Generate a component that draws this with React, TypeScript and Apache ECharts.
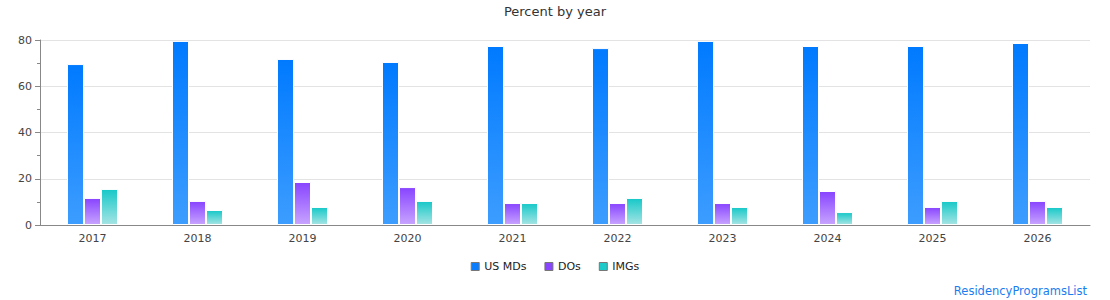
import React, { useEffect, useRef } from "react";
import * as echarts from "echarts";

const years = ["2017", "2018", "2019", "2020", "2021", "2022", "2023", "2024", "2025", "2026"];
const usMDs = [69.6, 79.6, 71.8, 70.5, 77.4, 76.5, 79.6, 77.4, 77.4, 78.7];
const dos = [11.7, 10.4, 18.6, 16.4, 9.5, 9.5, 9.5, 14.7, 7.8, 10.4];
const imgs = [15.6, 6.5, 7.8, 10.4, 9.5, 11.7, 7.8, 5.6, 10.4, 7.8];
const yTicks = [0, 20, 40, 60, 80];

const FONT = "DejaVu Sans";

function grad(top: string, bottom: string) {
  return new echarts.graphic.LinearGradient(0, 0, 0, 1, [
    { offset: 0, color: top },
    { offset: 1, color: bottom },
  ]);
}

export default function App() {
  const ref = useRef<HTMLDivElement>(null);
  useEffect(() => {
    if (!ref.current) return;
    document.body.style.margin = "0";
    const chart = echarts.init(ref.current, null, { renderer: "svg" });
    const barStyle = (top: string, bottom: string) => ({
      color: grad(top, bottom),
      borderColor: "#fff",
      borderWidth: 1,
    });
    chart.setOption({
      animation: false,
      textStyle: { fontFamily: FONT },
      title: {
        text: "Percent by year",
        left: "center",
        top: 5,
        padding: 0,
        textStyle: { fontFamily: FONT, fontSize: 13, fontWeight: "normal", color: "#333" },
      },
      legend: {
        bottom: 23,
        left: "center",
        itemWidth: 8,
        itemHeight: 8,
        itemGap: 18,
        icon: "rect",
        textStyle: { fontFamily: FONT, fontSize: 11, color: "#222" },
        data: [
          { name: "US MDs", itemStyle: { color: "#0a7dff", borderColor: "#777", borderWidth: 1 } },
          { name: "DOs", itemStyle: { color: "#8a45ff", borderColor: "#777", borderWidth: 1 } },
          { name: "IMGs", itemStyle: { color: "#1ccaca", borderColor: "#777", borderWidth: 1 } },
        ],
      },
      graphic: [
        {
          type: "text",
          right: 23,
          bottom: 3,
          style: { text: "ResidencyProgramsList", fill: "#1a7df0", fontFamily: FONT, fontSize: 11.5 },
        },
      ],
      grid: { left: 40, right: 20, top: 40, bottom: 75, containLabel: false },
      xAxis: {
        type: "category",
        data: years,
        axisLine: { lineStyle: { color: "#888" } },
        axisTick: { show: false },
        axisLabel: { color: "#444", fontSize: 11, fontFamily: FONT, margin: 8 },
      },
      yAxis: {
        type: "value",
        min: yTicks[0],
        max: yTicks[yTicks.length - 1],
        interval: 20,
        axisLine: { show: true, lineStyle: { color: "#888" } },
        axisTick: { show: true, length: 5, lineStyle: { color: "#888" } },
        minorTick: { show: true, splitNumber: 2, length: 3, lineStyle: { color: "#888" } },
        axisLabel: { color: "#444", fontSize: 11, fontFamily: FONT, margin: 8 },
        splitLine: { lineStyle: { color: "#e3e3e3" } },
      },
      series: [
        { name: "US MDs", type: "bar", data: usMDs, barWidth: 17, barGap: "0%", itemStyle: barStyle("#007aff", "#3d9dff") },
        { name: "DOs", type: "bar", data: dos, barWidth: 17, barGap: "0%", itemStyle: barStyle("#8844ff", "#c8a4ff") },
        { name: "IMGs", type: "bar", data: imgs, barWidth: 17, barGap: "0%", itemStyle: barStyle("#16c8c8", "#a6e4e4") },
      ],
    });
    return () => chart.dispose();
  }, []);
  return <div ref={ref} style={{ width: 1110, height: 300 }} />;
}
